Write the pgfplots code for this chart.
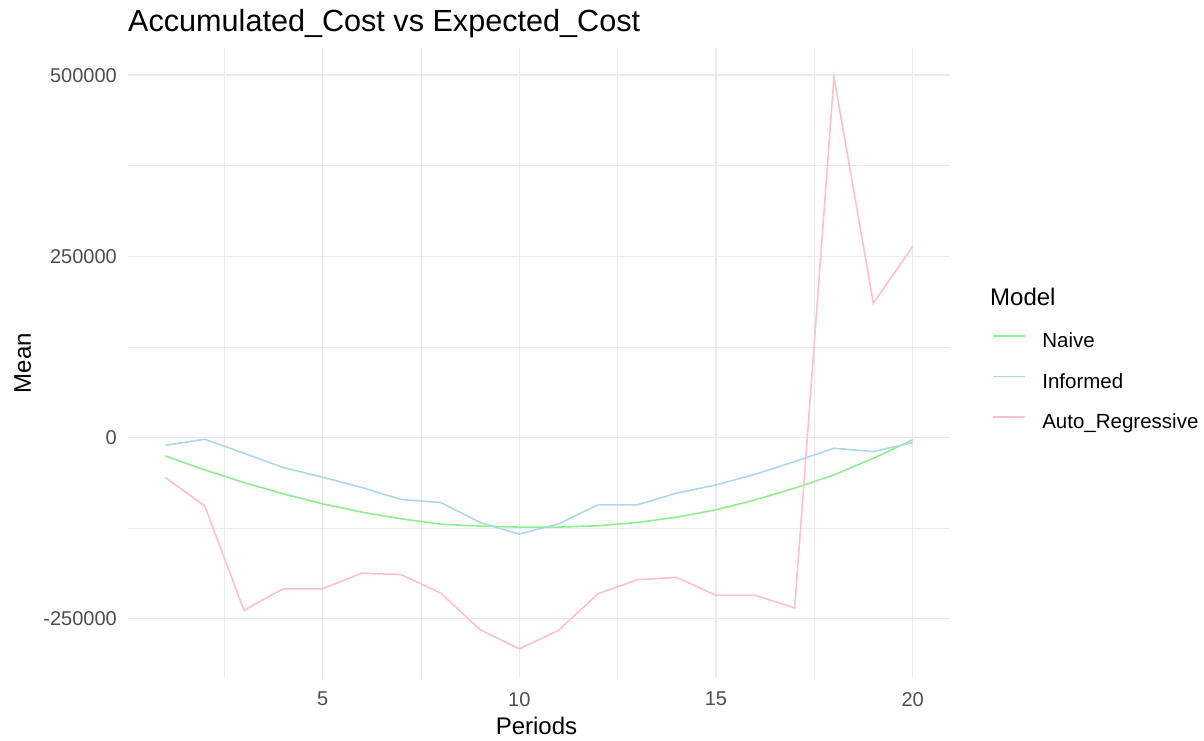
\documentclass[border=0pt]{standalone}
\usepackage{pgfplots}
\pgfplotsset{compat=1.18}
\usepackage{fontspec}
\setmainfont{Liberation Sans}

\definecolor{naive}{HTML}{90EE90}
\definecolor{informed}{HTML}{ADD8E6}
\definecolor{autoreg}{HTML}{FFC0CB}
\definecolor{gridc}{HTML}{EBEBEB}
\definecolor{tickc}{HTML}{4D4D4D}

\begin{document}
\begin{tikzpicture}[x=1pt,y=1pt]
\useasboundingbox (-128,-62.5) rectangle (1076,677.5);
\begin{axis}[
    at={(0,0)}, anchor=south west,
    scale only axis,
    width=822pt, height=629pt,
    xmin=0.05, xmax=20.95,
    ymin=-331400, ymax=537000,
    axis line style={draw=none},
    major tick length=0pt,
    scaled ticks=false,
    xtick={5,10,15,20}, xticklabels={5,10,15,20},
    ytick={-250000,0,250000,500000},
    yticklabels={-250000,0,250000,500000},
    extra x ticks={2.5,7.5,12.5,17.5}, extra x tick labels={},
    extra y ticks={-125000,125000,375000}, extra y tick labels={},
    extra tick style={major grid style={draw=gridc, line width=0.7pt}},
    xmajorgrids, ymajorgrids,
    major grid style={draw=gridc, line width=1.6pt},
    ticklabel style={font=\fontsize{20}{22}\selectfont, text=tickc, inner sep=0pt},
    xticklabel style={yshift=-14.5pt},
    yticklabel style={xshift=-11pt},
    legend style={at={(1.0511,0.469)}, anchor=west, draw=none, fill=none,
        font=\fontsize{20.5}{22}\selectfont, inner sep=0pt,
        row sep=21.5pt,
        nodes={inner sep=0pt, text height=15pt, text depth=4pt}},
    legend cell align=left,
    legend image code/.code={\draw[#1] (0pt,6pt) -- (32pt,6pt); \path (48.5pt,6pt);},
]
\addplot[draw=naive, line width=1.6pt] coordinates {
(1,-25500) (2,-44800) (3,-62200) (4,-77900) (5,-91600) (6,-103100) (7,-112300)
(8,-119700) (9,-122400) (10,-123800) (11,-123800) (12,-121900) (13,-117400)
(14,-110000) (15,-99900) (16,-86100) (17,-70000) (18,-51700) (19,-28700) (20,-3400)};
\addlegendentry{Naive}
\addplot[draw=informed, line width=1.6pt] coordinates {
(1,-10800) (2,-2500) (3,-21800) (4,-41600) (5,-54900) (6,-69100) (7,-85700)
(8,-89800) (9,-117400) (10,-133400) (11,-119200) (12,-93000) (13,-93000)
(14,-76900) (15,-65500) (16,-50800) (17,-33300) (18,-14900) (19,-19500) (20,-7100)};
\addlegendentry{Informed}
\addplot[draw=autoreg, line width=1.6pt] coordinates {
(1,-55400) (2,-94400) (3,-238600) (4,-208800) (5,-208800) (6,-187200) (7,-189500)
(8,-214800) (9,-265300) (10,-291900) (11,-266200) (12,-215700) (13,-196400)
(14,-193200) (15,-218000) (16,-218000) (17,-235400) (18,497500) (19,185300) (20,263500)};
\addlegendentry{Auto\_Regressive}
\end{axis}
\node[anchor=base west, inner sep=0pt, font=\fontsize{30.6}{34}\selectfont] at (0,645.8) {Accumulated\_Cost vs Expected\_Cost};
\node[rotate=90, inner sep=0pt, font=\fontsize{24}{28}\selectfont] at (-105.3,314.5) {Mean};
\node[inner sep=0pt, font=\fontsize{24}{28}\selectfont] at (408.5,-48.5) {Periods};
\node[anchor=west, inner sep=0pt, font=\fontsize{24}{28}\selectfont] at (862,380.5) {Model};
\end{tikzpicture}
\end{document}
